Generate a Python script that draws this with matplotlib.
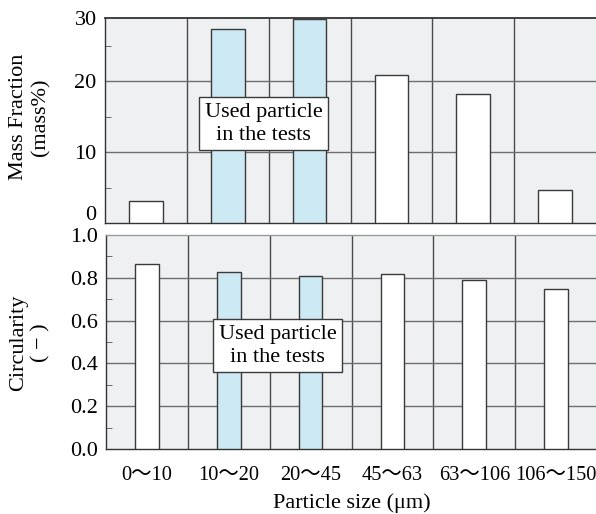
import matplotlib
matplotlib.use("Agg")
import matplotlib.pyplot as plt
import matplotlib.transforms as mtransforms
import numpy as np

plt.rcParams['font.family'] = ['Liberation Serif', 'Noto Sans CJK JP', 'DejaVu Sans']
plt.rcParams['mathtext.fontset'] = 'stix'

categories = ["0～10", "10～20", "20～45", "45～63", "63～106", "106～150"]
mass_fraction = [3.1, 27.3, 28.7, 20.8, 18.2, 4.6]
circularity = [0.864, 0.827, 0.807, 0.819, 0.791, 0.748]
used = [False, True, True, False, False, False]
box_text = "Used particle\nin the tests"

bg = "#eff0f2"
blue = "#cde9f4"
edge = "#3a3a3a"
grid_c = "#6e6e6e"
FS = 16

fig = plt.figure(figsize=(5.96, 5.14), dpi=100)
W, H = 596, 514

def add_ax(l, r, t, b):
    return fig.add_axes([l / W, 1 - b / H, (r - l) / W, (b - t) / H])

ax1 = add_ax(105, 596, 18, 223)
ax2 = add_ax(106, 597, 235, 449)

x = np.arange(len(categories))
colors = [blue if u else "white" for u in used]

for ax in (ax1, ax2):
    ax.set_facecolor(bg)
    ax.set_xlim(-0.5, len(categories) - 0.5)
    for xb in np.arange(0.5, len(categories) - 0.5, 1.0):
        ax.axvline(xb, color="#4a4a4a", lw=1.0, zorder=1)
    ax.spines['right'].set_visible(False)
    for s in ('left', 'bottom', 'top'):
        ax.spines[s].set_color("#333333")
        ax.spines[s].set_linewidth(1.0)
    ax.tick_params(axis='y', which='major', length=0, labelsize=FS, pad=6)
    ax.tick_params(axis='y', which='minor', direction='in', length=4, color="#555555")
    ax.tick_params(axis='x', length=0)

# Top panel
ax1.bar(x, mass_fraction, width=0.41, color=colors, edgecolor=edge, linewidth=1.0, zorder=3)
ax1.set_ylim(0, 28.9)
for yv in (10, 20):
    ax1.axhline(yv, color=grid_c, lw=1.0, zorder=1)
ax1.set_yticks([0, 10, 20, 28.9])
ax1.set_yticklabels(["0", "10", "20", "30"])
ax1.set_yticks([5, 15, 25], minor=True)
ax1.set_xticks([])
lab0 = ax1.get_yticklabels()[0]
lab0.set_transform(lab0.get_transform() + mtransforms.ScaledTranslation(0, 10 / 100, fig.dpi_scale_trans))
ax1.text(1.44, 14.0, box_text, ha='center', va='center', fontsize=FS, linespacing=1.3, zorder=5,
         bbox=dict(boxstyle='square,pad=0.25', facecolor='white', edgecolor=edge, linewidth=1.0))
ax1.spines['top'].set_linewidth(1.3)

# Bottom panel
ax2.bar(x, circularity, width=0.29, color=colors, edgecolor=edge, linewidth=1.0, zorder=3)
ax2.set_ylim(0, 1.0)
for yv in (0.2, 0.4, 0.6, 0.8):
    ax2.axhline(yv, color=grid_c, lw=1.0, zorder=1)
ax2.set_yticks([0.0, 0.2, 0.4, 0.6, 0.8, 1.0])
ax2.set_yticklabels(["0.0", "0.2", "0.4", "0.6", "0.8", "1.0"])
ax2.set_yticks([0.1, 0.3, 0.5, 0.7, 0.9], minor=True)
ax2.set_xticks(x)
ax2.set_xticklabels(categories, fontsize=14.7)
ax2.tick_params(axis='x', pad=12)
ax2.spines['top'].set_color("#9a9a9a")
ax2.text(1.6, 0.483, box_text, ha='center', va='center', fontsize=FS, linespacing=1.3, zorder=5,
         bbox=dict(boxstyle='square,pad=0.25', facecolor='white', edgecolor=edge, linewidth=1.0))
ax2.set_xlabel("Particle size (μm)", fontsize=FS, labelpad=6)

fig.text(30 / W, 1 - 117 / H, "Mass Fraction\n(mass%)", rotation=90, ha='center', va='center',
         fontsize=FS, linespacing=1.2)
fig.text(30 / W, 1 - 343 / H, "Circularity\n( − )", rotation=90, ha='center', va='center',
         fontsize=FS, linespacing=1.2)

fig.savefig("out.png", dpi=100)
